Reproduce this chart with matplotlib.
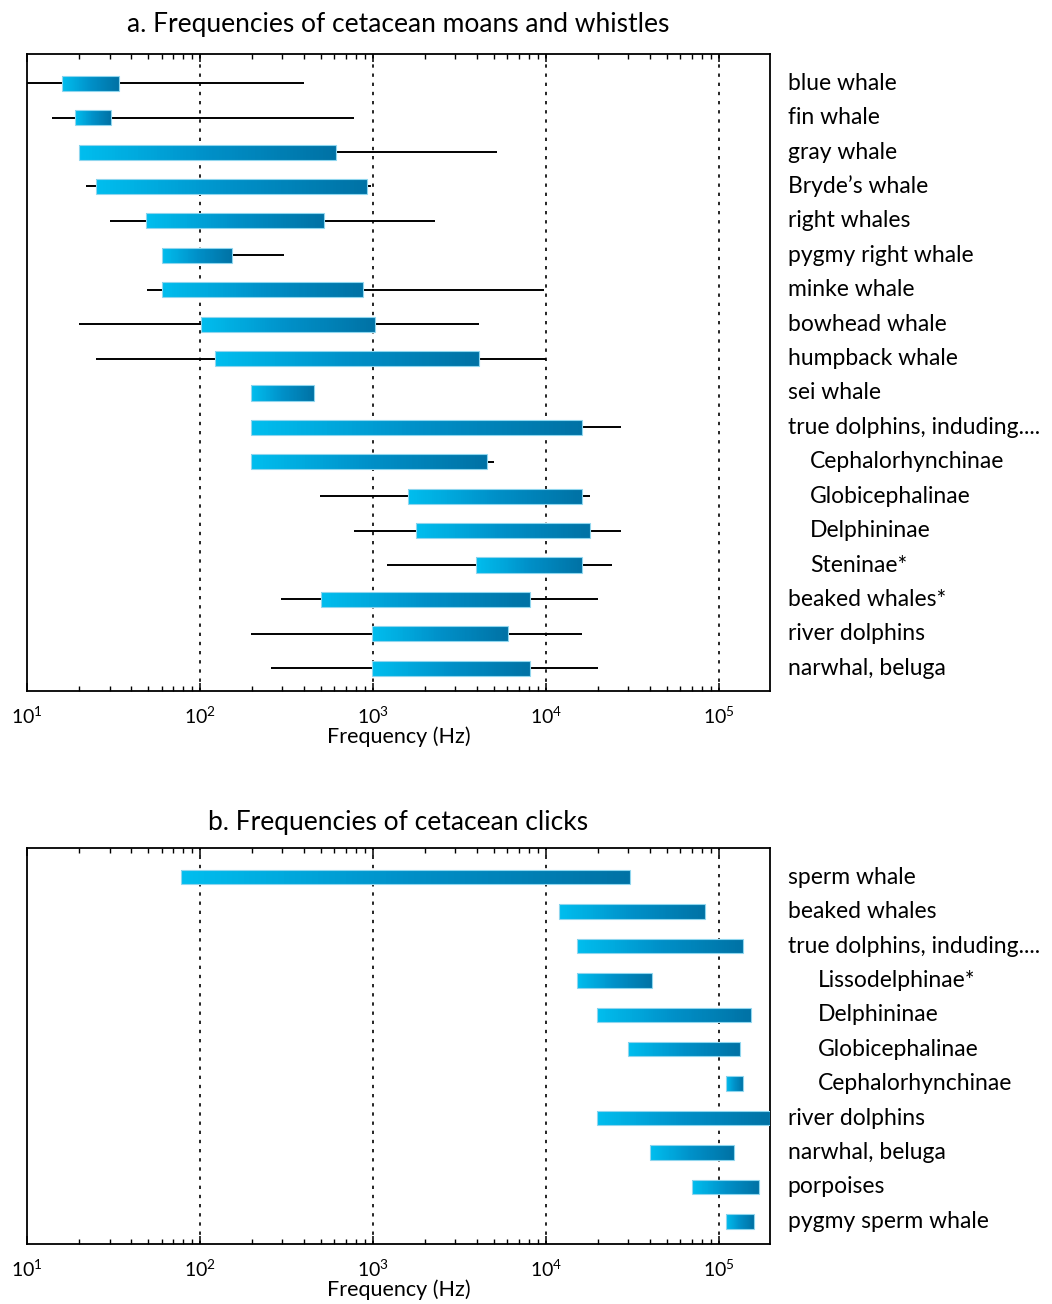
import numpy as np
import matplotlib
matplotlib.use("Agg")
import matplotlib.pyplot as plt
from matplotlib.colors import LinearSegmentedColormap
from matplotlib.patches import Rectangle
from matplotlib.ticker import LogLocator, NullFormatter

plt.rcParams['font.family'] = ['Lato', 'DejaVu Sans']
plt.rcParams['mathtext.fontset'] = 'custom'
plt.rcParams['mathtext.rm'] = 'Lato'

# ---- panel a: moans and whistles (Hz) ----
moan_labels = ["blue whale", "fin whale", "gray whale", "Bryde\u2019s whale", "right whales",
               "pygmy right whale", "minke whale", "bowhead whale", "humpback whale",
               "sei whale", "true dolphins, induding....", "Cephalorhynchinae",
               "Globicephalinae", "Delphininae", "Steninae*", "beaked whales*",
               "river dolphins", "narwhal, beluga"]
moan_indent = [0, 0, 0, 0, 0, 0, 0, 0, 0, 0, 0, 1, 1, 1, 1, 0, 0, 0]
moan_lo = [16, 19, 20, 25, 49, 60, 60, 101, 122, 198, 198, 198, 1590, 1770, 3930, 500, 995, 995]
moan_hi = [34, 30.5, 610, 930, 520, 154, 880, 1030, 4100, 457, 16200, 4570, 16200, 18000, 16200, 8150, 6080, 8150]
moan_wlo = [10, 13.9, None, 21.8, 30, None, 49.4, 20.1, 24.9, None, None, None, 498, 782, 1200, 295, 198, 258]
moan_whi = [400, 773, 5200, 973, 2300, 306, 9800, 4100, 10000, None, 27400, 5050, 18000, 27400, 24000, 20100, 16200, 20100]

# ---- panel b: clicks (Hz) ----
click_labels = ["sperm whale", "beaked whales", "true dolphins, induding....", "Lissodelphinae*",
                "Delphininae", "Globicephalinae", "Cephalorhynchinae", "river dolphins",
                "narwhal, beluga", "porpoises", "pygmy sperm whale"]
click_indent = [0, 0, 0, 1, 1, 1, 1, 0, 0, 0, 0]
click_lo = [78, 12000, 15100, 15100, 19700, 29900, 110000, 19700, 40300, 70300, 110000]
click_hi = [30700, 83600, 139000, 41400, 154000, 132000, 139000, 198000, 122000, 172000, 159000]

cmap = LinearSegmentedColormap.from_list("bar", ["#00bdee", "#0090c8", "#0072a5"])


def draw_bar(ax, lo, hi, y, h=0.44):
    xs = np.geomspace(lo, hi, 80)
    ax.pcolormesh(xs, [y - h / 2, y + h / 2], np.arange(79)[None, :],
                  cmap=cmap, shading='flat', zorder=3)
    ax.add_patch(Rectangle((lo, y - h / 2), hi - lo, h, fill=False,
                           edgecolor="#8fd6ee", lw=0.8, zorder=4))


def style_axes(ax, nrows, indent_x, labels, indents, title, tpad):
    ax.set_xscale('log')
    ax.set_xlim(10, 1.98e5)
    ax.set_ylim(nrows - 1 + 0.66, -0.85)
    ax.set_yticks([])
    for xv in [1e2, 1e3, 1e4, 1e5]:
        ax.axvline(xv, color='black', lw=1.2, ls=(0, (2, 3.5)), zorder=1)
    ax.xaxis.set_minor_locator(LogLocator(base=10, subs=np.arange(2, 10), numticks=20))
    ax.xaxis.set_minor_formatter(NullFormatter())
    ax.set_xticks([10, 100, 1000, 10000, 100000])
    ax.set_xticklabels([r"$10^{1}$", r"$10^{2}$", r"$10^{3}$", r"$10^{4}$", r"$10^{5}$"], fontsize=14)
    ax.tick_params(axis='x', which='major', direction='in', length=6, width=1.1, top=True, pad=10)
    ax.tick_params(axis='x', which='minor', direction='in', length=3.5, width=1.0, top=True)
    for s in ax.spines.values():
        s.set_linewidth(1.3)
    ax.set_xlabel("Frequency (Hz)", fontsize=15.5, labelpad=0)
    ax.set_title(title, fontsize=19, pad=tpad)
    for i, (lab, ind) in enumerate(zip(labels, indents)):
        ax.text(1.024 + indent_x * ind, i, lab, transform=ax.get_yaxis_transform(),
                va='center', ha='left', fontsize=16.5)


fig = plt.figure(figsize=(10.52, 13.04), dpi=100)
ax1 = fig.add_axes([27 / 1052, 1 - 691 / 1304, 743 / 1052, 637 / 1304])
ax2 = fig.add_axes([27 / 1052, 1 - 1244 / 1304, 743 / 1052, 396 / 1304])

for i in range(len(moan_labels)):
    wl = moan_wlo[i] if moan_wlo[i] is not None else moan_lo[i]
    wh = moan_whi[i] if moan_whi[i] is not None else moan_hi[i]
    ax1.plot([wl, wh], [i, i], color='black', lw=1.4, zorder=2, solid_capstyle='butt')
    draw_bar(ax1, moan_lo[i], moan_hi[i], i)
style_axes(ax1, len(moan_labels), 0.03, moan_labels, moan_indent,
           "a. Frequencies of cetacean moans and whistles", 16)

for i in range(len(click_labels)):
    draw_bar(ax2, click_lo[i], click_hi[i], i, h=0.42)
style_axes(ax2, len(click_labels), 0.04, click_labels, click_indent,
           "b. Frequencies of cetacean clicks", 13)

fig.savefig("out.png", dpi=100)
